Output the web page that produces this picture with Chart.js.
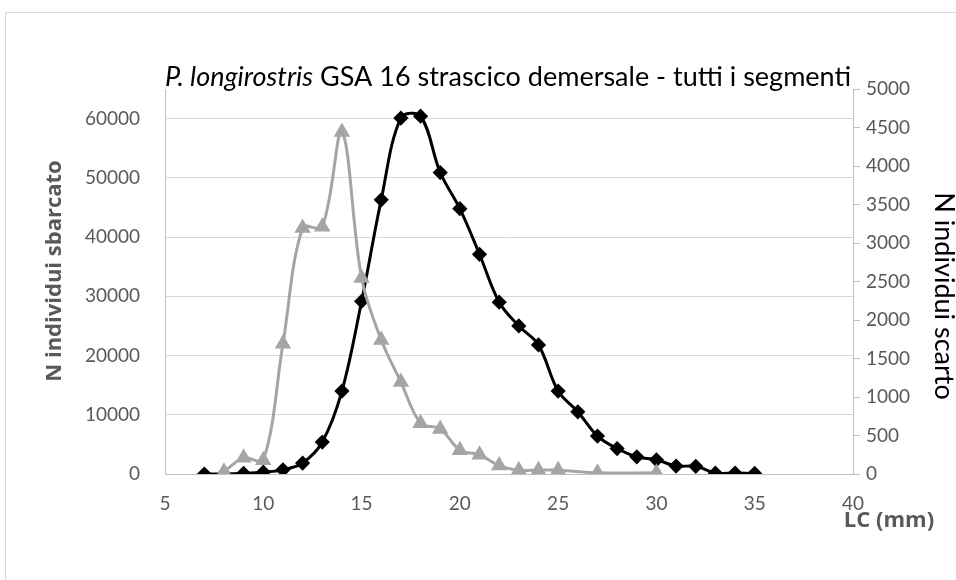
<!DOCTYPE html>
<html>
<head>
<meta charset="utf-8">
<script src="https://cdn.jsdelivr.net/npm/chart.js@4.4.1/dist/chart.umd.min.js"></script>
<style>
    body { margin: 0; background: #fff; }
    #wrap { width: 956px; height: 580px; }
</style>
</head>
<body>
<div id="wrap"><canvas id="chart-lc" width="956" height="580"></canvas></div>
<script>
// LC (mm) classes and counts
var lcSbarcato = [7, 8, 9, 10, 11, 12, 13, 14, 15, 16, 17, 18, 19, 20, 21, 22, 23, 24, 25, 26, 27, 28, 29, 30, 31, 32, 33, 34, 35];
var nSbarcato = [0, 0, 100, 300, 700, 1850, 5400, 14000, 29150, 46300, 60100, 60400, 50900, 44800, 37100, 29000, 25000, 21800, 14000, 10500, 6400, 4300, 2900, 2400, 1350, 1300, 150, 150, 100];

var lcScarto = [8, 9, 10, 11, 12, 13, 14, 15, 16, 17, 18, 19, 20, 21, 22, 23, 24, 25, 27, 30];
var nScarto = [30, 210, 180, 1690, 3195, 3210, 4440, 2545, 1740, 1195, 660, 585, 310, 250, 110, 50, 50, 50, 15, 15];

var xTicks = [5, 10, 15, 20, 25, 30, 35, 40];
var leftTicks = [0, 10000, 20000, 30000, 40000, 50000, 60000];
var rightTicks = [0, 500, 1000, 1500, 2000, 2500, 3000, 3500, 4000, 4500, 5000];

var titleItalic = 'P. longirostris';
var titleRest = ' GSA 16 strascico demersale - tutti i segmenti';
var leftTitle = 'N individui sbarcato';
var rightTitle = 'N individui scarto';
var xTitle = 'LC (mm)';

var FONT = 'Lato, "Open Sans", sans-serif';
var BOLD_FONT = '"Open Sans", "DejaVu Sans", sans-serif';

function toPoints(xs, ys) {
    return xs.map((x, i) => ({ x: x, y: ys[i] }));
}

// title, axis titles and the outer chart border, drawn like Excel does
var excelText = {
    id: 'excelText',
    afterDraw(chart) {
        let ctx = chart.ctx;
        ctx.save();

        ctx.strokeStyle = '#d9d9d9';
        ctx.lineWidth = 1;
        ctx.beginPath();
        ctx.moveTo(5.5, 580);
        ctx.lineTo(5.5, 12.5);
        ctx.lineTo(956, 12.5);
        ctx.stroke();

        // title with italic species name
        let fI = 'italic 27px ' + FONT;
        let fN = '27px ' + FONT;
        ctx.font = fI;
        let wI = ctx.measureText(titleItalic).width;
        ctx.font = fN;
        let wN = ctx.measureText(titleRest).width;
        let x0 = 508 - (wI + wN) / 2;
        ctx.fillStyle = '#000';
        ctx.textBaseline = 'middle';
        ctx.textAlign = 'left';
        ctx.font = fI;
        ctx.fillText(titleItalic, x0, 77);
        ctx.font = fN;
        ctx.fillText(titleRest, x0 + wI, 77);

        // left axis title
        ctx.save();
        ctx.translate(55, 271);
        ctx.rotate(-Math.PI / 2);
        ctx.textAlign = 'center';
        ctx.font = 'bold 22px ' + BOLD_FONT;
        ctx.fillStyle = '#595959';
        ctx.fillText(leftTitle, 0, 0);
        ctx.restore();

        // right axis title
        ctx.save();
        ctx.translate(944, 296);
        ctx.rotate(Math.PI / 2);
        ctx.textAlign = 'center';
        ctx.font = '27px ' + FONT;
        ctx.fillStyle = '#000';
        ctx.fillText(rightTitle, 0, 0);
        ctx.restore();

        // x axis title
        ctx.textAlign = 'center';
        ctx.font = 'bold 22px ' + BOLD_FONT;
        ctx.fillStyle = '#595959';
        ctx.fillText(xTitle, 889, 521);

        ctx.restore();
    }
};

function tickFont() {
    return { family: FONT, size: 19 };
}

function plainNumber(value) {
    return String(value);
}

let ctxLc = document.getElementById('chart-lc').getContext('2d');
new Chart(ctxLc, {
    type: 'line',
    data: {
        datasets: [{
            label: rightTitle,
            data: toPoints(lcScarto, nScarto),
            yAxisID: 'y1',
            borderColor: '#a5a5a5',
            backgroundColor: '#a5a5a5',
            borderWidth: 3,
            tension: 0.35,
            pointStyle: 'triangle',
            pointRadius: 6.5,
            pointBackgroundColor: '#a5a5a5',
            pointBorderColor: '#a5a5a5',
            fill: false
        }, {
            label: leftTitle,
            data: toPoints(lcSbarcato, nSbarcato),
            yAxisID: 'y',
            borderColor: '#000',
            backgroundColor: '#000',
            borderWidth: 3,
            tension: 0.35,
            pointStyle: 'rectRot',
            pointRadius: 5.5,
            pointBackgroundColor: '#000',
            pointBorderColor: '#000',
            fill: false
        }]
    },
    options: {
        responsive: false,
        animation: false,
        layout: {
            padding: { top: 89, left: 0, right: 0, bottom: 0 }
        },
        plugins: {
            legend: { display: false },
            title: { display: false },
            tooltip: { enabled: false }
        },
        scales: {
            x: {
                type: 'linear',
                min: 5,
                max: 40,
                afterBuildTicks: (scale) => { scale.ticks = xTicks.map(v => ({ value: v })); },
                afterFit: (scale) => { scale.height = 106; },
                grid: { display: false, drawTicks: false },
                border: { display: true, color: '#bfbfbf', width: 1 },
                ticks: { color: '#595959', font: tickFont(), padding: 18, maxRotation: 0, callback: plainNumber }
            },
            y: {
                position: 'left',
                min: 0,
                max: 65000,
                afterBuildTicks: (scale) => { scale.ticks = leftTicks.map(v => ({ value: v })); },
                afterFit: (scale) => { scale.width = 165; },
                grid: { display: true, drawOnChartArea: true, drawTicks: false, color: '#d9d9d9', lineWidth: 1 },
                border: { display: true, color: '#bfbfbf', width: 1 },
                ticks: { color: '#595959', font: tickFont(), padding: 25, callback: plainNumber }
            },
            y1: {
                position: 'right',
                min: 0,
                max: 5000,
                afterBuildTicks: (scale) => { scale.ticks = rightTicks.map(v => ({ value: v })); },
                afterFit: (scale) => { scale.width = 103; },
                grid: { display: true, drawOnChartArea: false, drawTicks: true, tickLength: 7, color: '#bfbfbf' },
                border: { display: true, color: '#bfbfbf', width: 1 },
                ticks: { color: '#595959', font: tickFont(), padding: 6, callback: plainNumber }
            }
        }
    },
    plugins: [excelText]
});
</script>
</body>
</html>
